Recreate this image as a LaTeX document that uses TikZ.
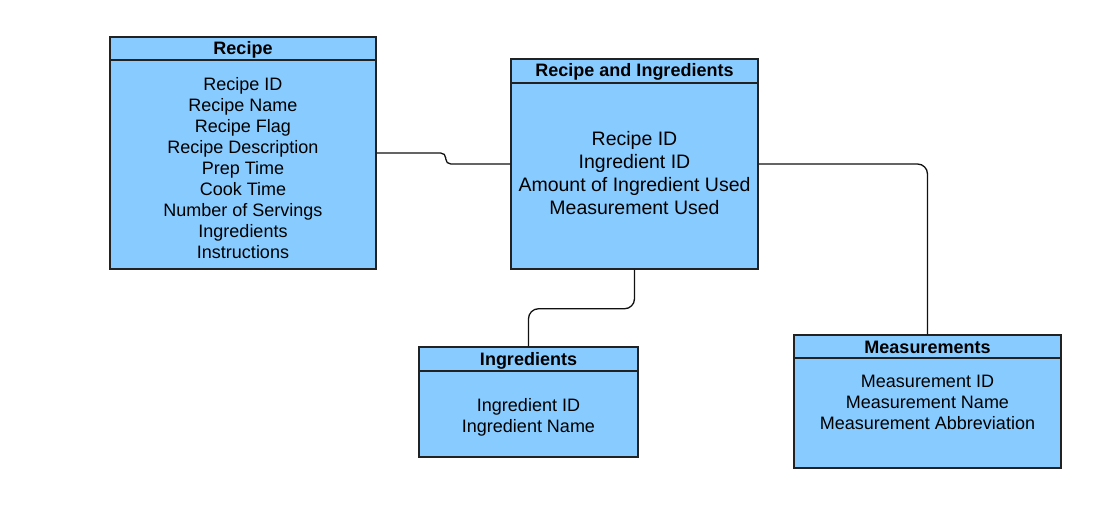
\documentclass[tikz,border=0pt]{standalone}
\usepackage{fontspec}
\setmainfont{Liberation Sans}
\usetikzlibrary{positioning}

\definecolor{tablefill}{HTML}{88CCFF}
\definecolor{tableline}{HTML}{222222}
\definecolor{linkline}{HTML}{111111}

\begin{document}
\begin{tikzpicture}[x=1pt, y=-1pt,
    every node/.style={inner sep=0pt},
    table/.style={draw=tableline, fill=tablefill, line width=1.5pt},
    rule/.style={draw=tableline, line width=1.6pt},
    head/.style={font=\fontsize{18}{21}\selectfont\bfseries, text height=13pt, text depth=4pt},
    body/.style={align=center, font=\fontsize{18}{21}\selectfont},
    bigbody/.style={align=center, font=\fontsize{19.5}{23}\selectfont},
    link/.style={draw=linkline, line width=1.3pt, rounded corners=10pt}
]
\useasboundingbox (0,0) rectangle (1106,519);

% tables
\node[table, minimum width=266pt, minimum height=232pt] (recipe) at (243,153) {};
\node[table, minimum width=247pt, minimum height=210pt] (ri) at (634.5,164) {};
\node[table, minimum width=219pt, minimum height=110pt] (ingr) at (528.5,402) {};
\node[table, minimum width=267pt, minimum height=133pt] (meas) at (927.5,401.5) {};

% header rules
\draw[rule] ([yshift=-24pt]recipe.north west) -- ([yshift=-24pt]recipe.north east);
\draw[rule] ([yshift=-25pt]ri.north west) -- ([yshift=-25pt]ri.north east);
\draw[rule] ([yshift=-25pt]ingr.north west) -- ([yshift=-25pt]ingr.north east);
\draw[rule] ([yshift=-24pt]meas.north west) -- ([yshift=-24pt]meas.north east);

% titles
\node[head] (recipetitle) at ([yshift=-14pt]recipe.north) {Recipe};
\node[head] (rititle) at ([yshift=-14pt]ri.north) {Recipe and Ingredients};
\node[head] (ingrtitle) at ([yshift=-14.5pt]ingr.north) {Ingredients};
\node[head] (meastitle) at ([yshift=-14.5pt]meas.north) {Measurements};

% fields
\node[body] (recipefields) at (243,168) {Recipe ID\\Recipe Name\\Recipe Flag\\Recipe Description\\Prep Time\\Cook Time\\Number of Servings\\Ingredients\\Instructions};
\node[bigbody] (rifields) at (634.5,173.5) {Recipe ID\\Ingredient ID\\Amount of Ingredient Used\\Measurement Used};
\node[body] (ingrfields) at (528.5,417.5) {Ingredient ID\\Ingredient Name};
\node[body] (measfields) at (927.5,402) {Measurement ID\\Measurement Name\\Measurement Abbreviation};

% links
\draw[link, rounded corners=5pt] (recipe.east) -- ++(69,0) |- (ri.west);
\draw[link] (ri.south) -- ++(0,39) -| (ingr.north);
\draw[link] (ri.east) -| (meas.north);
\end{tikzpicture}
\end{document}
